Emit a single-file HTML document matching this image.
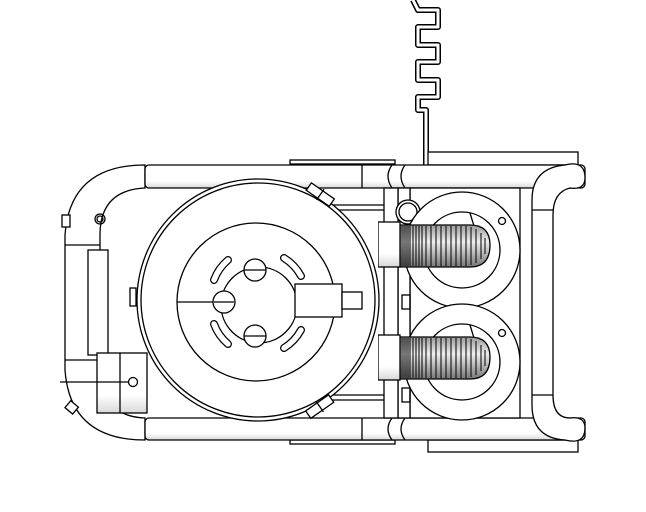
<!DOCTYPE html>
<html><head><style>html,body{margin:0;padding:0;background:#fff}svg{display:block}</style></head>
<body>
<svg width="646" height="512" viewBox="0 0 646 512" xmlns="http://www.w3.org/2000/svg" fill="none" stroke="#000" stroke-width="1.3">
<defs>
<linearGradient id="tv" x1="0" y1="0" x2="0" y2="1"><stop offset="0" stop-color="#fff"/><stop offset="0.7" stop-color="#fff"/><stop offset="1" stop-color="#d8d8d8"/></linearGradient>
<linearGradient id="sp" x1="0" y1="0" x2="0" y2="1"><stop offset="0" stop-color="#999"/><stop offset="0.4" stop-color="#eee"/><stop offset="1" stop-color="#777"/></linearGradient>
</defs>
<!-- cable -->
<path d="M413 0 L418 10 L438 10 L438 27 L418 27 L418 45 L438 45 L438 62 L418 62 L418 80 L438 80 L438 97 L418 97 L418 110 L426 110 L426 166" stroke-width="6" stroke-linejoin="round"/>
<path d="M413 0 L418 10 L438 10 L438 27 L418 27 L418 45 L438 45 L438 62 L418 62 L418 80 L438 80 L438 97 L418 97 L418 110 L426 110 L426 166" stroke="#fff" stroke-width="3" stroke-linejoin="round"/>
<!-- plates -->
<rect x="290" y="160" width="105" height="4" fill="#fff"/>
<rect x="290" y="440" width="105" height="4" fill="#fff"/>
<rect x="428" y="152" width="150" height="13" fill="#fff"/>
<rect x="428" y="440" width="150" height="12" fill="#fff"/>
<!-- left outer frame tube -->
<path d="M145 165 L145 188 Q100 190 100 235 L100 370 Q100 416 145 418 L145 440 Q70 440 65 370 L65 235 Q70 165 145 165 Z" fill="#fff"/>
<line x1="65" y1="245" x2="100" y2="245"/><line x1="65" y1="360" x2="100" y2="360"/>
<!-- top & bottom tubes -->
<rect x="145" y="165" width="440" height="23" rx="4" fill="url(#tv)"/>
<rect x="145" y="418" width="440" height="22" rx="4" fill="url(#tv)"/>
<line x1="362" y1="165" x2="362" y2="188"/><line x1="362" y1="418" x2="362" y2="440"/>
<path d="M392 165 Q384 176 392 188 M405 165 Q397 176 405 188 M392 418 Q384 429 392 440 M405 418 Q397 429 405 440"/>
<!-- right handle -->
<path d="M565 165 Q585 160 585 178 Q585 190 570 188 Q553 192 553 215 L553 395 Q553 418 570 418 Q585 416 585 428 Q585 445 565 440 Q532 438 532 405 L532 200 Q532 168 565 165 Z" fill="#fff"/>
<line x1="532" y1="210" x2="553" y2="210"/><line x1="532" y1="395" x2="553" y2="395"/>
<!-- right box -->
<rect x="410" y="188" width="110" height="230" fill="#fff"/>
<rect x="398" y="188" width="12" height="230" fill="#fff"/>
<rect x="384" y="188" width="14" height="230" fill="#fff"/>
<rect x="402" y="295" width="8" height="14"/><rect x="402" y="388" width="8" height="14"/>
<circle cx="408" cy="212" r="12" fill="#fff"/><circle cx="408" cy="212" r="9"/>
<!-- rings -->
<circle cx="462" cy="250" r="58" fill="#fff"/><circle cx="462" cy="250" r="38"/>
<circle cx="462" cy="362" r="58" fill="#fff"/><circle cx="462" cy="362" r="38"/>
<line x1="470" y1="213" x2="485" y2="262"/><line x1="470" y1="325" x2="485" y2="374"/>
<circle cx="502" cy="221" r="3.5"/><circle cx="502" cy="333" r="3.5"/>
<!-- springs -->
<path d="M400 225 L470 225 Q490 225 490 245 Q490 267 470 267 L400 267 Z" fill="url(#sp)"/>
<path d="M400 337 L470 337 Q490 337 490 357 Q490 379 470 379 L400 379 Z" fill="url(#sp)"/>
<g stroke="#000" stroke-width="1">
<path d="M402 226v40M404 226v40M406 226v40M408 226v40M410 226v40M413 226v40M416 226v40M419 226v40M422 226v40M426 226v40M431 226v40M436 226v40M441 226v40M446 226v40M451 226v40M456 226v40M461 226v40M466 226v40M471 227v38M476 229v34M481 233v26M485 238v16"/>
<path d="M402 338v40M404 338v40M406 338v40M408 338v40M410 338v40M413 338v40M416 338v40M419 338v40M422 338v40M426 338v40M431 338v40M436 338v40M441 338v40M446 338v40M451 338v40M456 338v40M461 338v40M466 338v40M471 339v38M476 341v34M481 345v26M485 350v16"/>
</g>
<rect x="378" y="222" width="22" height="45" fill="url(#tv)"/>
<rect x="378" y="335" width="22" height="45" fill="url(#tv)"/>
<!-- mid fill -->
<rect x="330" y="205" width="48" height="190" fill="#fff" stroke="none"/>
<line x1="330" y1="205" x2="384" y2="205"/><line x1="330" y1="210" x2="384" y2="210"/>
<line x1="330" y1="395" x2="384" y2="395"/><line x1="330" y1="400" x2="384" y2="400"/>
<!-- left box & small cylinder -->
<rect x="88" y="250" width="20" height="105" fill="#fff"/>
<rect x="97" y="353" width="50" height="60" fill="url(#tv)"/>
<line x1="120" y1="353" x2="120" y2="413"/>
<line x1="60" y1="382" x2="130" y2="382"/>
<circle cx="133" cy="382" r="4.5" fill="#fff"/>
<circle cx="100" cy="219" r="5"/><circle cx="100" cy="219" r="3"/>
<rect x="62" y="215" width="8" height="12" fill="#fff"/>
<rect x="67" y="403" width="10" height="9" fill="#fff" transform="rotate(40 72 407)"/>
<!-- big circle -->
<circle cx="258" cy="300" r="121" fill="#fff"/>
<circle cx="258" cy="300" r="117"/>
<circle cx="256" cy="302" r="79"/>
<line x1="177" y1="302" x2="215" y2="302"/>
<rect x="130" y="288" width="6" height="18" fill="#fff"/>
<g transform="rotate(35 320 195)"><rect x="306" y="190" width="28" height="9" fill="#fff"/><line x1="320" y1="188" x2="320" y2="201"/></g>
<g transform="rotate(-35 320 407)"><rect x="306" y="402" width="28" height="9" fill="#fff"/><line x1="320" y1="400" x2="320" y2="413"/></g>
<!-- hub -->
<circle cx="259" cy="305" r="38" fill="#fff"/>
<g stroke-linecap="round">
<path d="M214 280 a48 48 0 0 1 14-20" stroke-width="8"/><path d="M214 280 a48 48 0 0 1 14-20" stroke="#fff" stroke-width="5.5"/>
<path d="M284 258 a48 48 0 0 1 17 18" stroke-width="8"/><path d="M284 258 a48 48 0 0 1 17 18" stroke="#fff" stroke-width="5.5"/>
<path d="M214 324 a48 48 0 0 0 14 20" stroke-width="8"/><path d="M214 324 a48 48 0 0 0 14 20" stroke="#fff" stroke-width="5.5"/>
<path d="M284 348 a48 48 0 0 0 17-18" stroke-width="8"/><path d="M284 348 a48 48 0 0 0 17-18" stroke="#fff" stroke-width="5.5"/>
</g>
<circle cx="255" cy="270" r="11" fill="#fff"/><line x1="244" y1="270" x2="266" y2="270"/>
<circle cx="255" cy="336" r="11" fill="#fff"/><line x1="244" y1="336" x2="266" y2="336"/>
<circle cx="224" cy="302" r="11" fill="#fff"/><line x1="214" y1="302" x2="234" y2="302"/>
<rect x="295" y="284" width="47" height="33" fill="#fff"/>
<rect x="342" y="292" width="20" height="17" fill="#fff"/>
</svg>
</body></html>
